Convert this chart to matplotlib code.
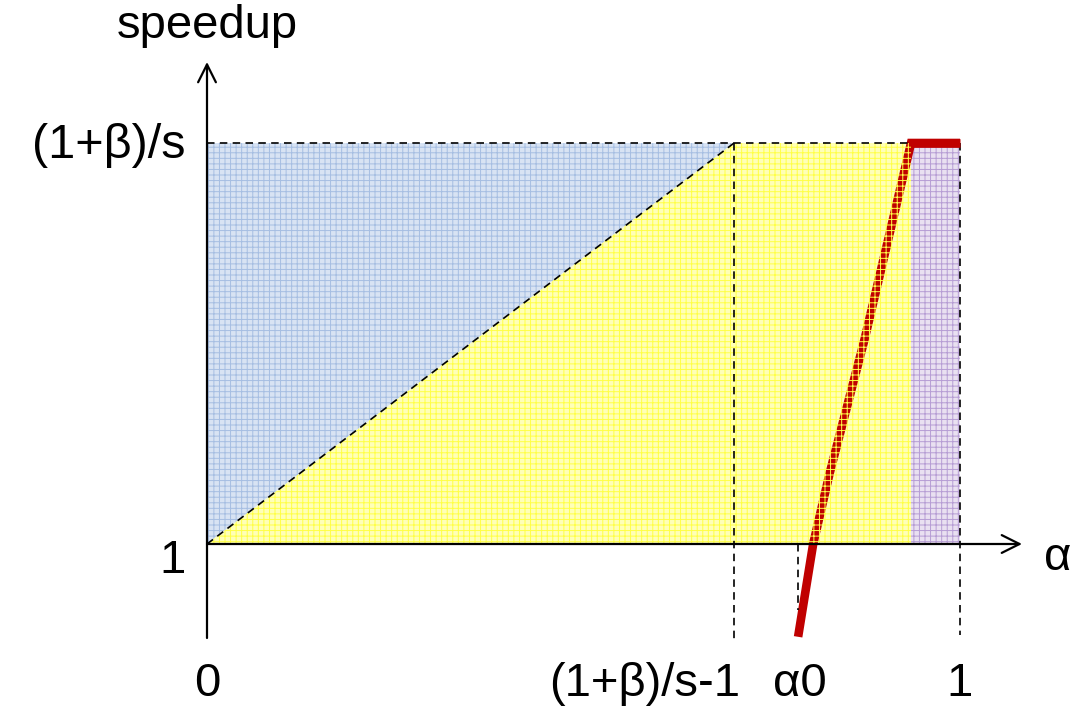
import matplotlib
matplotlib.use("Agg")
import matplotlib.pyplot as plt
from matplotlib.transforms import offset_copy

# ---- data ----
speedup_max = 1.7                 # (1+beta)/s
knee_alpha = 0.7                  # (1+beta)/s - 1
alpha0 = 0.785
purple_start = 0.935
alpha_ticks = [0.0, 0.7, 0.785, 1.0]
alpha_labels = ["0", "(1+β)/s-1", "α0", "1"]
speedup_ticks = [1.0, 1.7]
speedup_labels = ["1", "(1+β)/s"]
curve_alpha = [0.785, 0.805, 0.827, 0.873, 0.935, 1.0]
curve_speedup = [0.838, 1.0, 1.124, 1.356, 1.7, 1.7]

plt.rcParams['font.family'] = ['Liberation Sans', 'DejaVu Sans']
plt.rcParams['hatch.linewidth'] = 0.7

W, H = 1072, 707
fig = plt.figure(figsize=(W / 100, H / 100), dpi=100)
ax = fig.add_axes([0, 0, 1, 1])
px_per_x = 753.0
px_per_y = 401.0 / (speedup_max - 1.0)
ax.set_xlim(-207 / px_per_x, (W - 207) / px_per_x)
ax.set_ylim(1 - (H - 544) / px_per_y, 1 + 544 / px_per_y)
ax.axis('off')

def py(p):
    return 1 + (544 - p) / px_per_y

def pxx(p):
    return (p - 207) / px_per_x

S = speedup_max
# regions
blue_x = [0, 0, knee_alpha]
blue_y = [1, S, S]
yel_x = [0, knee_alpha, purple_start, purple_start]
yel_y = [1, S, S, 1]
pur_x = [purple_start, 1.0, 1.0, purple_start]
pur_y = [1, 1, S, S]

ax.fill(blue_x, blue_y, facecolor='#d8e3f3', edgecolor='#a6bee2', hatch='+++', lw=0, zorder=1)
ax.fill(yel_x, yel_y, facecolor='#ffffb8', lw=0, zorder=1)
ax.fill(pur_x, pur_y, facecolor='#e9e0f1', edgecolor='#b69dd4', hatch='+++', lw=0, zorder=1)

# red curve
ax.plot(curve_alpha, curve_speedup, color='#c00000', lw=6.2, solid_capstyle='butt',
        solid_joinstyle='miter', zorder=3)
# yellow plaid on top of the curve within the yellow region
ax.fill(yel_x, yel_y, facecolor='none', edgecolor='#ffff45', hatch='+++', lw=0, zorder=4)

# dashed guide lines
dash = dict(color='black', lw=1.2, linestyle=(0, (4.5, 3.2)), zorder=5)
ax.plot([0, 1.0], [S, S], **dash)
ax.plot([0, knee_alpha], [1, S], **dash)
ax.plot([knee_alpha, knee_alpha], [S, py(640)], **dash)
ax.plot([1.0, 1.0], [S, py(635)], **dash)
ax.plot([alpha0, alpha0], [1, py(610)], **dash)

# flat top part of the curve drawn above the dashed line
ax.plot(curve_alpha[-2:], curve_speedup[-2:], color='#c00000', lw=6.2,
        solid_capstyle='butt', zorder=6)

# axes with open arrow heads
arrow = dict(arrowstyle='->', lw=1.6, color='black', mutation_scale=32,
             shrinkA=0, shrinkB=0)
ax.annotate('', xy=(0, py(62)), xytext=(0, py(638)), arrowprops=arrow, zorder=7)
ax.annotate('', xy=(pxx(1022), 1), xytext=(0, 1), arrowprops=arrow, zorder=7)

fs = 34
# x labels
xoff = {"0": 0, "(1+β)/s-1": 6, "α0": 2, "1": 0}
xha = {"0": 'center', "(1+β)/s-1": 'right', "α0": 'center', "1": 'center'}
for a, lab in zip(alpha_ticks, alpha_labels):
    tr = offset_copy(ax.transData, fig=fig, x=xoff[lab], y=0, units='dots')
    ax.text(a, py(696), lab, transform=tr, ha=xha[lab], va='baseline', fontsize=fs)

# y labels
ybase = {"1": 573, "(1+β)/s": 158}
ysize = {"1": fs, "(1+β)/s": fs + 1}
for v, lab in zip(speedup_ticks, speedup_labels):
    ax.text(pxx(186), py(ybase[lab]), lab, ha='right', va='baseline', fontsize=ysize[lab])

ax.text(0, py(38), "speedup", ha='center', va='baseline', fontsize=fs)
ax.text(pxx(1044), py(570), "α", ha='left', va='baseline', fontsize=fs)

fig.savefig('out.png', dpi=100)
